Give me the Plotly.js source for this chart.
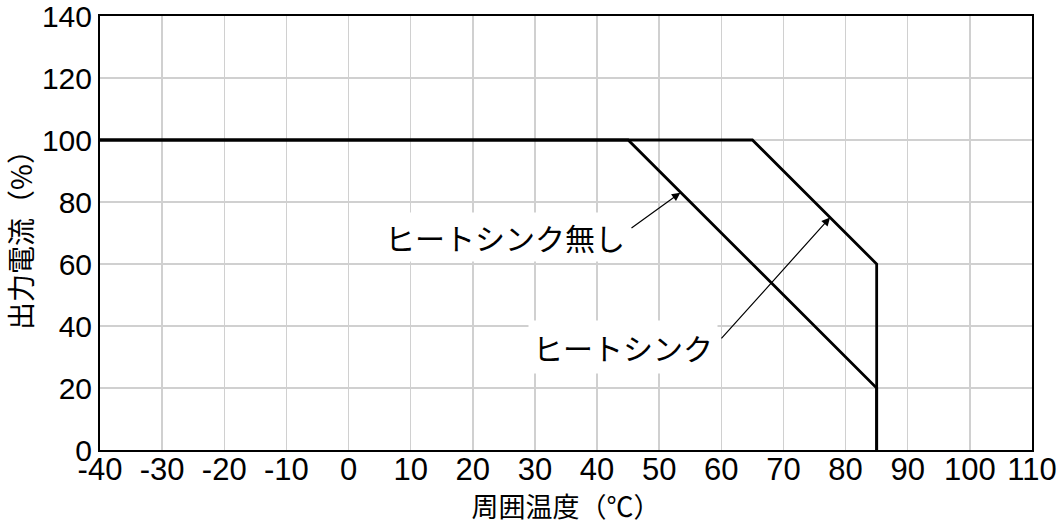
<!DOCTYPE html>
<html>
<head>
<meta charset="utf-8">
<script src="https://cdn.plot.ly/plotly-3.0.1.min.js"></script>
<style>html,body{margin:0;padding:0;background:#fff;}#chart{width:1058px;height:525px;}</style>
</head>
<body>
<div id="chart"></div>
<script>
// Derating curve data
const tempNoSink = [-40, 45, 85, 85];
const currentNoSink = [100, 100, 20, 0];
const tempSink = [-40, 65, 85, 85];
const currentSink = [100, 100, 60, 0];
const labelNoSink = 'ヒートシンク無し';
const labelSink = 'ヒートシンク';
const xTitle = '周囲温度（℃）';
const yTitle = '出力電流（%）';
const xTickVals = [-40, -30, -20, -10, 0, 10, 20, 30, 40, 50, 60, 70, 80, 90, 100, 110];
const xTickText = ['-40', '-30', '-20', '-10', '0', '10', '20', '30', '40', '50', '60', '70', '80', '90', '100', '110'];
const yTickVals = [0, 20, 40, 60, 80, 100, 120, 140];
const yTickText = ['0', '20', '40', '60', '80', '100', '120', '140'];

const FONT = 'Liberation Sans, Arial, Noto Sans CJK JP, sans-serif';
const JP = 'Noto Sans CJK JP, sans-serif';

const traces = [
  {x: tempNoSink, y: currentNoSink, mode: 'lines', line: {color: '#000', width: 2.8}, name: labelNoSink, hoverinfo: 'skip'},
  {x: tempSink, y: currentSink, mode: 'lines', line: {color: '#000', width: 2.8}, name: labelSink, hoverinfo: 'skip'}
];

const layout = {
  width: 1058, height: 525,
  margin: {l: 100, r: 26, t: 16, b: 75},
  paper_bgcolor: '#fff', plot_bgcolor: '#fff',
  showlegend: false,
  font: {family: FONT, color: '#000', size: 29},
  xaxis: {
    range: [-40, 110], tickmode: 'array', tickvals: xTickVals, ticktext: xTickText,
    showgrid: true, gridcolor: '#d0d0d0', gridwidth: 1.5,
    showline: true, linecolor: '#000', linewidth: 2, mirror: true,
    ticks: '', zeroline: false, automargin: false,
    ticklabelstandoff: -9, ticklabeloverflow: 'allow',
    tickfont: {family: FONT, size: 31},
    title: {text: xTitle, font: {family: JP, size: 27}, standoff: 7}
  },
  yaxis: {
    range: [0, 140], tickmode: 'array', tickvals: yTickVals, ticktext: yTickText,
    showgrid: true, gridcolor: '#d0d0d0', gridwidth: 1.5,
    showline: true, linecolor: '#000', linewidth: 2, mirror: true,
    ticks: '', zeroline: false, automargin: false,
    ticklabeloverflow: 'allow',
    tickfont: {family: FONT, size: 30},
    title: {text: yTitle, font: {family: JP, size: 28}, standoff: 6}
  },
  annotations: [
    {x: 25.2, y: 68.7, xref: 'x', yref: 'y', text: labelNoSink, showarrow: false,
     font: {family: JP, size: 30, color: '#000'}, bgcolor: '#fff', borderpad: 2},
    {x: 44.2, y: 33.2, xref: 'x', yref: 'y', text: labelSink, showarrow: false,
     font: {family: JP, size: 30, color: '#000'}, bgcolor: '#fff', borderpad: 4},
    {x: 53.4, y: 83, ax: 45.3, ay: 71.3, xref: 'x', yref: 'y', axref: 'x', ayref: 'y', text: '',
     showarrow: true, arrowhead: 2, arrowsize: 1.4, arrowwidth: 1.2, arrowcolor: '#000', standoff: 0},
    {x: 77.5, y: 75, ax: 59.8, ay: 35.5, xref: 'x', yref: 'y', axref: 'x', ayref: 'y', text: '',
     showarrow: true, arrowhead: 2, arrowsize: 1.4, arrowwidth: 1.2, arrowcolor: '#000', standoff: 0}
  ]
};

Plotly.newPlot('chart', traces, layout, {staticPlot: true});
</script>
</body>
</html>
